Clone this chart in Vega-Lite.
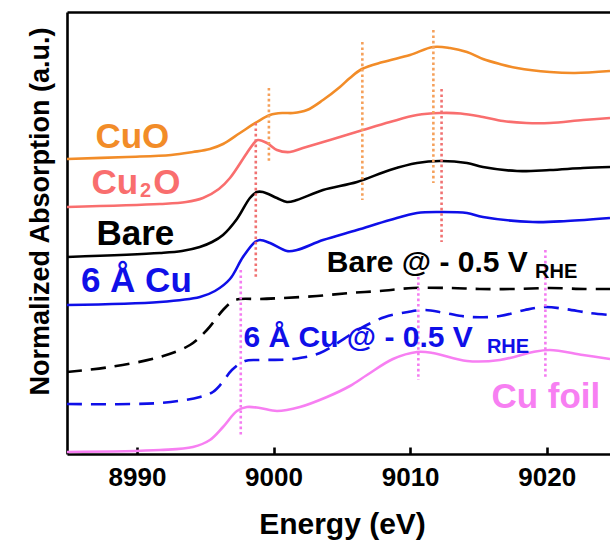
{
  "$schema": "https://vega.github.io/schema/vega-lite/v6.json",
  "width": 543,
  "height": 442,
  "autosize": "none",
  "padding": {"left": 67, "top": 12, "right": 0, "bottom": 90},
  "background": "white",
  "config": {"view": {"stroke": null}, "font": "Liberation Sans"},
  "resolve": {"axis": {"x": "independent", "y": "independent"}},
  "datasets": {
    "solid": [
      {"series": "CuO", "E": 8984.88, "y": 2.95}, {"series": "CuO", "E": 8989.27, "y": 2.97}, {"series": "CuO", "E": 8992.5, "y": 2.99}, {"series": "CuO", "E": 8994.10, "y": 3.02}, {"series": "CuO", "E": 8995.34, "y": 3.05}, {"series": "CuO", "E": 8996.30, "y": 3.10}, {"series": "CuO", "E": 8997.54, "y": 3.21}, {"series": "CuO", "E": 8998.78, "y": 3.32}, {"series": "CuO", "E": 8999.74, "y": 3.39}, {"series": "CuO", "E": 9000.69, "y": 3.41}, {"series": "CuO", "E": 9001.42, "y": 3.41}, {"series": "CuO", "E": 9002.45, "y": 3.44}, {"series": "CuO", "E": 9003.62, "y": 3.54}, {"series": "CuO", "E": 9004.86, "y": 3.67}, {"series": "CuO", "E": 9005.59, "y": 3.76}, {"series": "CuO", "E": 9006.47, "y": 3.85}, {"series": "CuO", "E": 9008.01, "y": 3.92}, {"series": "CuO", "E": 9009.99, "y": 3.99}, {"series": "CuO", "E": 9011.67, "y": 4.07}, {"series": "CuO", "E": 9012.91, "y": 4.06}, {"series": "CuO", "E": 9014.16, "y": 4.02}, {"series": "CuO", "E": 9015.33, "y": 3.95}, {"series": "CuO", "E": 9016.57, "y": 3.90}, {"series": "CuO", "E": 9017.82, "y": 3.86}, {"series": "CuO", "E": 9020.23, "y": 3.82}, {"series": "CuO", "E": 9022.06, "y": 3.81}, {"series": "CuO", "E": 9024.63, "y": 3.83},
      {"series": "Cu2O", "E": 8984.88, "y": 2.47}, {"series": "Cu2O", "E": 8991.68, "y": 2.50}, {"series": "Cu2O", "E": 8993.6, "y": 2.52}, {"series": "Cu2O", "E": 8994.83, "y": 2.56}, {"series": "Cu2O", "E": 8996.0, "y": 2.65}, {"series": "Cu2O", "E": 8996.81, "y": 2.76}, {"series": "Cu2O", "E": 8998.05, "y": 3.01}, {"series": "Cu2O", "E": 8998.64, "y": 3.12}, {"series": "Cu2O", "E": 8998.86, "y": 3.14}, {"series": "Cu2O", "E": 8999.52, "y": 3.11}, {"series": "Cu2O", "E": 9000.25, "y": 3.04}, {"series": "Cu2O", "E": 9001.20, "y": 3.02}, {"series": "Cu2O", "E": 9002.15, "y": 3.06}, {"series": "Cu2O", "E": 9004.13, "y": 3.14}, {"series": "Cu2O", "E": 9006.54, "y": 3.24}, {"series": "Cu2O", "E": 9008.52, "y": 3.32}, {"series": "Cu2O", "E": 9010.50, "y": 3.39}, {"series": "Cu2O", "E": 9012.18, "y": 3.41}, {"series": "Cu2O", "E": 9013.7, "y": 3.405}, {"series": "Cu2O", "E": 9015.33, "y": 3.37}, {"series": "Cu2O", "E": 9016.8, "y": 3.33}, {"series": "Cu2O", "E": 9018.5, "y": 3.31}, {"series": "Cu2O", "E": 9020.23, "y": 3.31}, {"series": "Cu2O", "E": 9022.65, "y": 3.34}, {"series": "Cu2O", "E": 9024.63, "y": 3.36},
      {"series": "Bare", "E": 8984.88, "y": 1.97}, {"series": "Bare", "E": 8991.68, "y": 2.01}, {"series": "Bare", "E": 8993.3, "y": 2.03}, {"series": "Bare", "E": 8994.6, "y": 2.07}, {"series": "Bare", "E": 8995.5, "y": 2.12}, {"series": "Bare", "E": 8996.30, "y": 2.19}, {"series": "Bare", "E": 8997.32, "y": 2.35}, {"series": "Bare", "E": 8998.27, "y": 2.56}, {"series": "Bare", "E": 8998.78, "y": 2.62}, {"series": "Bare", "E": 8999.22, "y": 2.62}, {"series": "Bare", "E": 9000.25, "y": 2.56}, {"series": "Bare", "E": 9000.98, "y": 2.52}, {"series": "Bare", "E": 9001.71, "y": 2.54}, {"series": "Bare", "E": 9003.62, "y": 2.64}, {"series": "Bare", "E": 9006.11, "y": 2.72}, {"series": "Bare", "E": 9008.52, "y": 2.84}, {"series": "Bare", "E": 9010.50, "y": 2.91}, {"series": "Bare", "E": 9012.18, "y": 2.93}, {"series": "Bare", "E": 9014.16, "y": 2.91}, {"series": "Bare", "E": 9015.33, "y": 2.87}, {"series": "Bare", "E": 9017.82, "y": 2.83}, {"series": "Bare", "E": 9020.23, "y": 2.84}, {"series": "Bare", "E": 9022.65, "y": 2.86}, {"series": "Bare", "E": 9024.63, "y": 2.87},
      {"series": "6 Å Cu", "E": 8984.88, "y": 1.49}, {"series": "6 Å Cu", "E": 8991.68, "y": 1.52}, {"series": "6 Å Cu", "E": 8994.61, "y": 1.57}, {"series": "6 Å Cu", "E": 8995.71, "y": 1.63}, {"series": "6 Å Cu", "E": 8996.81, "y": 1.75}, {"series": "6 Å Cu", "E": 8997.76, "y": 1.97}, {"series": "6 Å Cu", "E": 8998.64, "y": 2.12}, {"series": "6 Å Cu", "E": 8999.00, "y": 2.14}, {"series": "6 Å Cu", "E": 8999.74, "y": 2.11}, {"series": "6 Å Cu", "E": 9000.98, "y": 2.03}, {"series": "6 Å Cu", "E": 9001.71, "y": 2.04}, {"series": "6 Å Cu", "E": 9003.62, "y": 2.14}, {"series": "6 Å Cu", "E": 9006.11, "y": 2.24}, {"series": "6 Å Cu", "E": 9008.52, "y": 2.34}, {"series": "6 Å Cu", "E": 9010.50, "y": 2.41}, {"series": "6 Å Cu", "E": 9012.18, "y": 2.42}, {"series": "6 Å Cu", "E": 9014.16, "y": 2.41}, {"series": "6 Å Cu", "E": 9015.33, "y": 2.37}, {"series": "6 Å Cu", "E": 9018.99, "y": 2.32}, {"series": "6 Å Cu", "E": 9021.48, "y": 2.33}, {"series": "6 Å Cu", "E": 9024.63, "y": 2.36},
      {"series": "Cu foil", "E": 8984.88, "y": 0.02}, {"series": "Cu foil", "E": 8991.68, "y": 0.04}, {"series": "Cu foil", "E": 8994.10, "y": 0.07}, {"series": "Cu foil", "E": 8995.34, "y": 0.14}, {"series": "Cu foil", "E": 8996.30, "y": 0.27}, {"series": "Cu foil", "E": 8997.32, "y": 0.43}, {"series": "Cu foil", "E": 8998.05, "y": 0.47}, {"series": "Cu foil", "E": 8999.00, "y": 0.46}, {"series": "Cu foil", "E": 9000.25, "y": 0.43}, {"series": "Cu foil", "E": 9001.93, "y": 0.47}, {"series": "Cu foil", "E": 9003.91, "y": 0.57}, {"series": "Cu foil", "E": 9005.59, "y": 0.68}, {"series": "Cu foil", "E": 9006.84, "y": 0.79}, {"series": "Cu foil", "E": 9008.74, "y": 0.95}, {"series": "Cu foil", "E": 9010.50, "y": 1.02}, {"series": "Cu foil", "E": 9011.67, "y": 1.01}, {"series": "Cu foil", "E": 9014.16, "y": 0.93}, {"series": "Cu foil", "E": 9016.57, "y": 0.94}, {"series": "Cu foil", "E": 9018.99, "y": 1.02}, {"series": "Cu foil", "E": 9020.23, "y": 1.04}, {"series": "Cu foil", "E": 9022.65, "y": 0.99}, {"series": "Cu foil", "E": 9024.63, "y": 0.95}
    ],
    "dashed": [
      {"series": "Bare @ -0.5 V", "E": 8984.88, "y": 0.82}, {"series": "Bare @ -0.5 V", "E": 8988.02, "y": 0.87}, {"series": "Bare @ -0.5 V", "E": 8991.68, "y": 0.97}, {"series": "Bare @ -0.5 V", "E": 8993.88, "y": 1.09}, {"series": "Bare @ -0.5 V", "E": 8995.12, "y": 1.24}, {"series": "Bare @ -0.5 V", "E": 8996.30, "y": 1.44}, {"series": "Bare @ -0.5 V", "E": 8997.03, "y": 1.53}, {"series": "Bare @ -0.5 V", "E": 8997.54, "y": 1.55}, {"series": "Bare @ -0.5 V", "E": 8999.00, "y": 1.55}, {"series": "Bare @ -0.5 V", "E": 9000.69, "y": 1.56}, {"series": "Bare @ -0.5 V", "E": 9003.18, "y": 1.58}, {"series": "Bare @ -0.5 V", "E": 9005.59, "y": 1.61}, {"series": "Bare @ -0.5 V", "E": 9007.79, "y": 1.63}, {"series": "Bare @ -0.5 V", "E": 9010.20, "y": 1.66}, {"series": "Bare @ -0.5 V", "E": 9012.91, "y": 1.66}, {"series": "Bare @ -0.5 V", "E": 9015.11, "y": 1.65}, {"series": "Bare @ -0.5 V", "E": 9017.67, "y": 1.65}, {"series": "Bare @ -0.5 V", "E": 9020.23, "y": 1.66}, {"series": "Bare @ -0.5 V", "E": 9022.80, "y": 1.65}, {"series": "Bare @ -0.5 V", "E": 9024.63, "y": 1.65},
      {"series": "6 Å Cu @ -0.5 V", "E": 8984.88, "y": 0.50}, {"series": "6 Å Cu @ -0.5 V", "E": 8991.68, "y": 0.51}, {"series": "6 Å Cu @ -0.5 V", "E": 8994.61, "y": 0.57}, {"series": "6 Å Cu @ -0.5 V", "E": 8995.56, "y": 0.62}, {"series": "6 Å Cu @ -0.5 V", "E": 8996.22, "y": 0.71}, {"series": "6 Å Cu @ -0.5 V", "E": 8996.95, "y": 0.84}, {"series": "6 Å Cu @ -0.5 V", "E": 8997.91, "y": 0.93}, {"series": "6 Å Cu @ -0.5 V", "E": 8999.00, "y": 0.94}, {"series": "6 Å Cu @ -0.5 V", "E": 9001.42, "y": 0.95}, {"series": "6 Å Cu @ -0.5 V", "E": 9003.40, "y": 1.01}, {"series": "6 Å Cu @ -0.5 V", "E": 9005.59, "y": 1.19}, {"series": "6 Å Cu @ -0.5 V", "E": 9006.69, "y": 1.28}, {"series": "6 Å Cu @ -0.5 V", "E": 9008.16, "y": 1.37}, {"series": "6 Å Cu @ -0.5 V", "E": 9009.84, "y": 1.42}, {"series": "6 Å Cu @ -0.5 V", "E": 9011.08, "y": 1.44}, {"series": "6 Å Cu @ -0.5 V", "E": 9012.55, "y": 1.41}, {"series": "6 Å Cu @ -0.5 V", "E": 9014.38, "y": 1.37}, {"series": "6 Å Cu @ -0.5 V", "E": 9016.57, "y": 1.38}, {"series": "6 Å Cu @ -0.5 V", "E": 9018.40, "y": 1.44}, {"series": "6 Å Cu @ -0.5 V", "E": 9019.87, "y": 1.47}, {"series": "6 Å Cu @ -0.5 V", "E": 9021.33, "y": 1.45}, {"series": "6 Å Cu @ -0.5 V", "E": 9023.16, "y": 1.41}, {"series": "6 Å Cu @ -0.5 V", "E": 9024.63, "y": 1.39}
    ],
    "refs": [
      {"series": "CuO ref", "E": 8999.66, "y1": 3.66, "y2": 2.92},
      {"series": "CuO ref", "E": 9006.5, "y1": 4.12, "y2": 2.54},
      {"series": "CuO ref", "E": 9011.7, "y1": 4.24, "y2": 2.71},
      {"series": "Cu2O ref", "E": 8998.7, "y1": 3.31, "y2": 1.76},
      {"series": "Cu2O ref", "E": 9012.3, "y1": 3.65, "y2": 2.12},
      {"series": "Cu ref", "E": 8997.6, "y1": 1.84, "y2": 0.19},
      {"series": "Cu ref", "E": 9010.6, "y1": 1.77, "y2": 0.74},
      {"series": "Cu ref", "E": 9019.9, "y1": 2.04, "y2": 0.77}
    ],
    "bigLabels": [
      {"series": "CuO", "text": "CuO", "E": 8986.96, "y": 3.06},
      {"series": "Cu2O", "text": "Cu", "E": 8986.67, "y": 2.605},
      {"series": "Cu2O", "text": "O", "E": 8991.2, "y": 2.605},
      {"series": "Bare", "text": "Bare", "E": 8987.04, "y": 2.09},
      {"series": "6 Å Cu", "text": "6 Å Cu", "E": 8985.9, "y": 1.62},
      {"series": "Cu foil", "text": "Cu foil", "E": 9015.95, "y": 0.46}
    ],
    "midLabels": [
      {"series": "Bare @ -0.5 V", "text": "Bare @ - 0.5 V", "E": 9003.9, "y": 1.82},
      {"series": "6 Å Cu @ -0.5 V", "text": "6 Å Cu @ - 0.5 V", "E": 8997.8, "y": 1.07}
    ],
    "subLabels": [
      {"series": "Cu2O", "text": "2", "E": 8990.22, "y": 2.57},
      {"series": "Bare @ -0.5 V", "text": "RHE", "E": 9019.14, "y": 1.76},
      {"series": "6 Å Cu @ -0.5 V", "text": "RHE", "E": 9015.62, "y": 1.01}
    ]
  },
  "layer": [
    {
      "data": {"name": "solid"},
      "mark": {"type": "line", "strokeWidth": 2.6, "interpolate": "catmull-rom", "clip": true},
      "encoding": {
        "x": {"field": "E", "type": "quantitative",
          "scale": {"domain": [8984.88, 9024.63], "nice": false, "zero": false},
          "axis": {"orient": "bottom", "values": [8990, 9000, 9010, 9020], "format": "d", "grid": false,
            "domainColor": "black", "domainWidth": 2.6, "tickColor": "black", "tickWidth": 2.6, "tickSize": -7,
            "labelFont": "Liberation Sans", "labelFontSize": 26, "labelFontWeight": "bold", "labelColor": "black", "labelPadding": 17,
            "title": "Energy (eV)", "titleFont": "Liberation Sans", "titleFontSize": 30, "titleFontWeight": "bold", "titleColor": "black",
            "titleBaseline": "alphabetic", "titleY": 79, "titleX": 275}},
        "y": {"field": "y", "type": "quantitative",
          "scale": {"domain": [0, 4.42], "nice": false, "zero": false},
          "axis": {"orient": "left", "grid": false, "ticks": false, "labels": false, "domain": true,
            "domainColor": "black", "domainWidth": 2.6,
            "title": "Normalized Absorption (a.u.)", "titleFont": "Liberation Sans", "titleFontSize": 27, "titleFontWeight": "bold", "titleColor": "black",
            "titleBaseline": "alphabetic", "titleX": -19, "titleY": 199, "titleAngle": -90, "titleAlign": "center"}},
        "color": {"field": "series", "type": "nominal", "legend": null,
          "scale": {"domain": ["CuO", "Cu2O", "Bare", "6 Å Cu", "Bare @ -0.5 V", "6 Å Cu @ -0.5 V", "Cu foil", "CuO ref", "Cu2O ref", "Cu ref"],
            "range": ["#F28C28", "#F96E6E", "#000000", "#0F0FE8", "#000000", "#0F0FE8", "#F77FF2", "#F5A05A", "#F07272", "#F47CF0"]}},
        "detail": {"field": "series"}
      }
    },
    {
      "data": {"name": "dashed"},
      "mark": {"type": "line", "strokeWidth": 2.6, "interpolate": "catmull-rom", "strokeDash": [15, 9], "clip": true},
      "encoding": {
        "x": {"field": "E", "type": "quantitative", "scale": {"domain": [8984.88, 9024.63], "nice": false, "zero": false},
          "axis": {"orient": "top", "grid": false, "ticks": false, "labels": false, "title": null, "domainColor": "black", "domainWidth": 2.6}},
        "y": {"field": "y", "type": "quantitative", "scale": {"domain": [0, 4.42], "nice": false, "zero": false}, "axis": null},
        "color": {"field": "series", "type": "nominal", "legend": null},
        "detail": {"field": "series"}
      }
    },
    {
      "data": {"name": "refs"},
      "mark": {"type": "rule", "strokeWidth": 2.6, "strokeDash": [2.6, 2.8]},
      "encoding": {
        "x": {"field": "E", "type": "quantitative", "scale": {"domain": [8984.88, 9024.63], "nice": false, "zero": false}, "axis": null},
        "y": {"field": "y1", "type": "quantitative", "scale": {"domain": [0, 4.42], "nice": false, "zero": false}, "axis": null},
        "y2": {"field": "y2"},
        "color": {"field": "series", "type": "nominal", "legend": null}
      }
    },
    {
      "data": {"name": "bigLabels"},
      "mark": {"type": "text", "align": "left", "baseline": "alphabetic", "font": "Liberation Sans", "fontSize": 35, "fontWeight": "bold"},
      "encoding": {
        "x": {"field": "E", "type": "quantitative", "scale": {"domain": [8984.88, 9024.63], "nice": false, "zero": false}, "axis": null},
        "y": {"field": "y", "type": "quantitative", "scale": {"domain": [0, 4.42], "nice": false, "zero": false}, "axis": null},
        "text": {"field": "text"},
        "color": {"field": "series", "type": "nominal", "legend": null}
      }
    },
    {
      "data": {"name": "midLabels"},
      "mark": {"type": "text", "align": "left", "baseline": "alphabetic", "font": "Liberation Sans", "fontSize": 30, "fontWeight": "bold"},
      "encoding": {
        "x": {"field": "E", "type": "quantitative", "scale": {"domain": [8984.88, 9024.63], "nice": false, "zero": false}, "axis": null},
        "y": {"field": "y", "type": "quantitative", "scale": {"domain": [0, 4.42], "nice": false, "zero": false}, "axis": null},
        "text": {"field": "text"},
        "color": {"field": "series", "type": "nominal", "legend": null}
      }
    },
    {
      "data": {"name": "subLabels"},
      "mark": {"type": "text", "align": "left", "baseline": "alphabetic", "font": "Liberation Sans", "fontSize": 20, "fontWeight": "bold"},
      "encoding": {
        "x": {"field": "E", "type": "quantitative", "scale": {"domain": [8984.88, 9024.63], "nice": false, "zero": false}, "axis": null},
        "y": {"field": "y", "type": "quantitative", "scale": {"domain": [0, 4.42], "nice": false, "zero": false}, "axis": null},
        "text": {"field": "text"},
        "color": {"field": "series", "type": "nominal", "legend": null}
      }
    }
  ]
}
